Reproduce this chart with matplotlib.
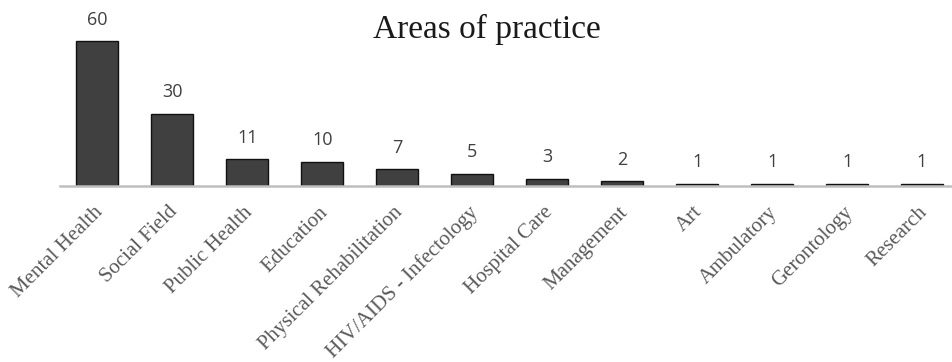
import matplotlib
matplotlib.use("Agg")
import matplotlib.pyplot as plt
import matplotlib.transforms as mtransforms

categories = ["Mental Health", "Social Field", "Public Health", "Education",
              "Physical Rehabilitation", "HIV/AIDS - Infectology", "Hospital Care",
              "Management", "Art", "Ambulatory", "Gerontology", "Research"]
values = [60, 30, 11, 10, 7, 5, 3, 2, 1, 1, 1, 1]
title = "Areas of practice"

W, H = 952, 362
fig = plt.figure(figsize=(W / 100, H / 100), dpi=100)
ax = fig.add_axes([60 / W, (H - 186) / H, 892 / W, 186 / H])

x = list(range(len(categories)))
bars = ax.bar(x, values, width=0.56, color="#404040", edgecolor="#111111", linewidth=1.0, zorder=2)
ax.set_xlim(-0.5, 11.4)
ax.set_ylim(0, 77)

for spine in ["top", "right", "left"]:
    ax.spines[spine].set_visible(False)
ax.spines["bottom"].set_color("#bfbfbf")
ax.spines["bottom"].set_linewidth(1.8)
ax.set_yticks([])
ax.tick_params(axis="x", length=0, pad=12)
ax.set_xticks(x)
ax.set_xticklabels(categories, rotation=45, ha="right", va="top", rotation_mode="anchor",
                   fontfamily="Liberation Serif", fontsize=15, color="#595959")
offset = mtransforms.ScaledTranslation(-3 / 72, 0, fig.dpi_scale_trans)
for lbl in ax.get_xticklabels():
    lbl.set_transform(lbl.get_transform() + offset)

for xi, v in zip(x, values):
    ax.annotate(str(v), (xi, v), xytext=(0, 9), textcoords="offset points",
                ha="center", va="bottom", fontfamily="Open Sans", fontsize=13, color="#404040")

fig.text(487 / W, 1 - 29 / H, title, ha="center", va="center",
         fontfamily="Liberation Serif", fontsize=24, color="#1a1a1a")

fig.savefig("out.png", dpi=100)
